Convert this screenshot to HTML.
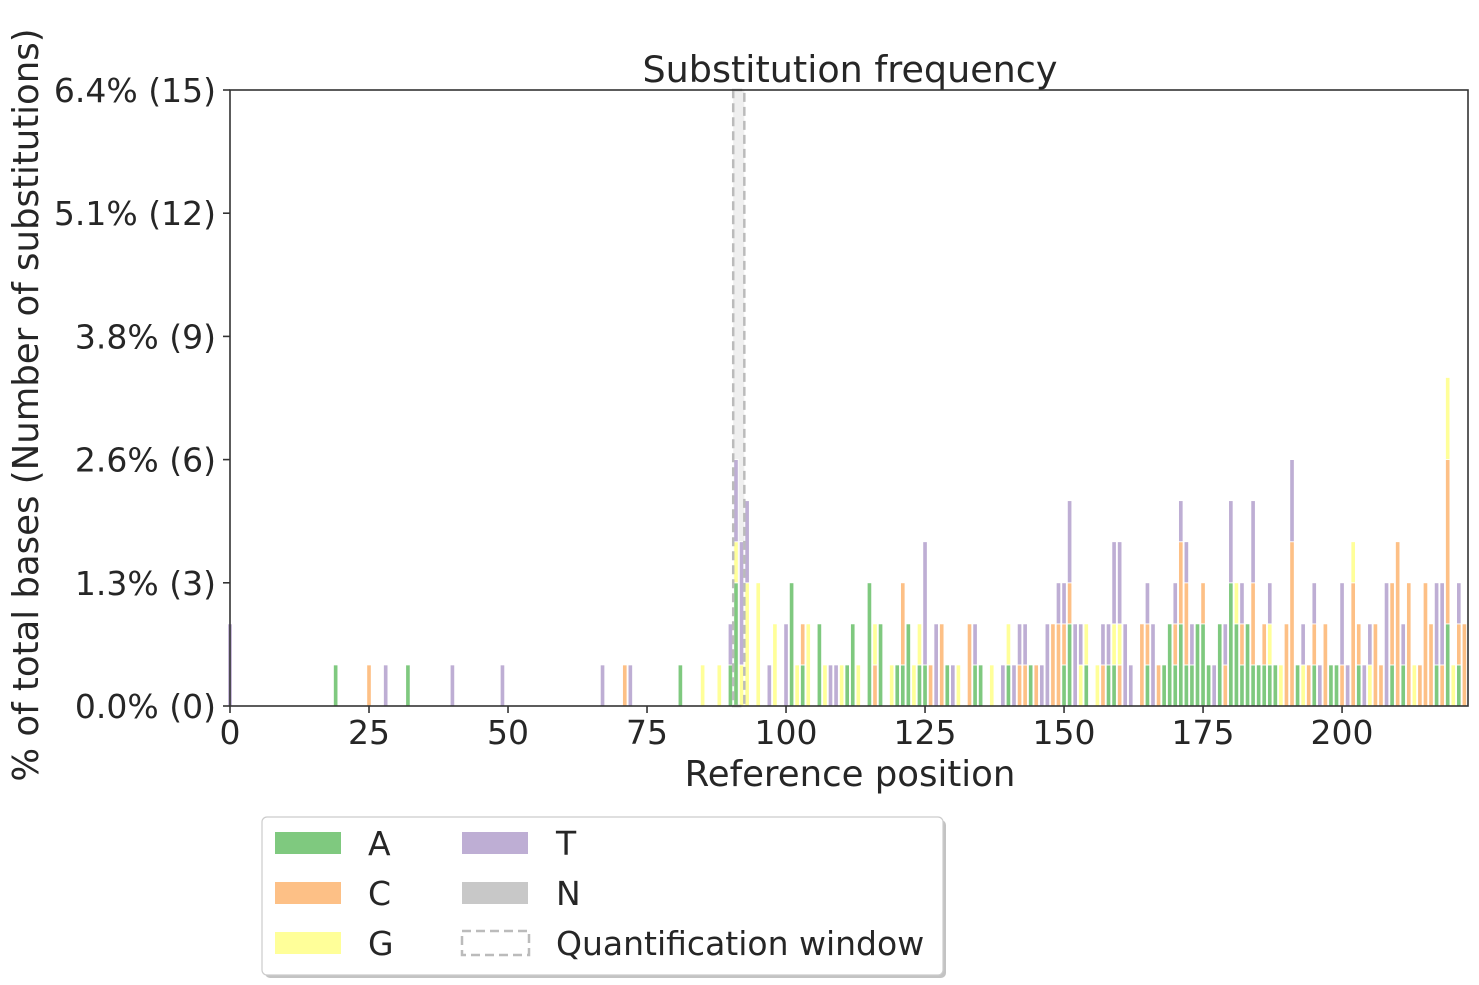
<!DOCTYPE html>
<html><head><meta charset="utf-8"><style>
html,body{margin:0;padding:0;background:#fff;}
svg{display:block;font-family:"DejaVu Sans","Liberation Sans",sans-serif;}
</style></head><body>
<svg id="chart" width="1479" height="985" viewBox="0 0 1479 985" xmlns="http://www.w3.org/2000/svg">
<rect x="0" y="0" width="1479" height="985" fill="#fff"/>
<text x="850" y="82" text-anchor="middle" font-size="36.5" fill="#262626">Substitution frequency</text>
<rect id="qwin" fill="#efefef"/>
<g id="bars"></g>
<rect id="qwinEdge" fill="none" stroke="#bbbbbb" stroke-width="2.5" stroke-dasharray="9,5"/>
<g id="axes"></g>
<text x="850" y="786" text-anchor="middle" font-size="35.5" fill="#262626">Reference position</text>
<text transform="translate(38,405) rotate(-90)" text-anchor="middle" font-size="35.5" fill="#262626">% of total bases (Number of substitutions)</text>
<g>
<rect x="265" y="820" width="681" height="158" rx="5" fill="#888" opacity="0.5"/>
<rect x="262" y="817" width="681" height="158" rx="5" fill="#fff" stroke="#cccccc" stroke-width="1.2"/>
<g><rect x="275" y="832" width="66" height="22" fill="#7fc97f"/><text x="368" y="855" font-size="33" fill="#262626">A</text></g>
<g><rect x="275" y="882" width="66" height="22" fill="#fdc086"/><text x="368" y="905" font-size="33" fill="#262626">C</text></g>
<g><rect x="275" y="932" width="66" height="22" fill="#ffff99"/><text x="368" y="955" font-size="33" fill="#262626">G</text></g>
<g><rect x="462" y="832" width="66" height="22" fill="#beaed4"/><text x="556" y="855" font-size="33" fill="#262626">T</text></g>
<g><rect x="462" y="882" width="66" height="22" fill="#c8c8c8"/><text x="556" y="905" font-size="33" fill="#262626">N</text></g>
<g><rect x="462" y="931" width="67" height="24" fill="none" stroke="#bbbbbb" stroke-width="2.5" stroke-dasharray="9,5"/><text x="556" y="955" font-size="33" fill="#262626">Quantification window</text></g>
</g>
</svg>
<script>
const positions=[0,19,25,28,32,40,49,67,71,72,81,85,88,90,91,92,93,95,97,98,100,101,102,103,104,106,107,108,109,110,111,112,113,115,116,117,119,120,121,122,123,124,125,126,127,128,129,130,131,133,134,135,137,139,140,141,142,143,144,145,146,147,148,149,150,151,152,153,154,156,157,158,159,160,161,162,164,165,166,167,168,169,170,171,172,173,174,175,176,177,178,179,180,181,182,183,184,185,186,187,188,189,190,191,192,193,194,195,196,197,198,199,200,201,202,203,204,205,206,207,208,209,210,211,212,213,214,215,216,217,218,219,220,221,222];
const countsA=[0,1,0,0,1,0,0,0,0,0,1,0,0,1,3,0,0,0,0,0,0,3,0,1,0,2,0,0,0,0,1,2,0,3,0,2,0,1,1,2,0,1,1,0,0,0,1,0,0,0,1,1,0,0,1,0,0,0,1,0,0,0,0,0,1,2,0,0,1,0,0,1,1,0,0,0,0,1,0,0,1,2,1,2,1,1,2,2,1,0,2,0,3,2,1,2,1,1,1,1,1,0,0,0,1,0,0,1,0,0,1,1,0,0,0,1,0,0,0,0,0,1,0,1,0,0,0,0,0,1,0,2,0,1,0];
const countsC=[0,0,1,0,0,0,0,0,1,0,0,0,0,0,0,0,0,0,0,0,0,0,0,1,0,0,0,0,0,0,0,0,0,0,1,0,0,0,2,0,0,0,0,1,0,2,0,0,0,2,0,0,0,0,0,0,1,1,0,1,0,0,2,2,1,1,0,0,0,0,1,0,0,1,0,0,2,1,0,1,0,0,1,2,2,0,0,1,0,0,0,1,0,0,1,0,2,0,1,0,0,0,2,4,0,0,1,1,0,2,0,0,1,0,3,1,0,0,2,1,0,2,4,0,3,0,1,3,2,0,1,4,0,1,2];
const countsG=[0,0,0,0,0,0,0,0,0,0,0,1,1,0,1,1,3,3,0,2,0,0,1,0,2,0,1,0,0,1,0,0,1,0,1,0,1,0,0,0,1,1,0,0,0,0,0,0,1,0,0,0,1,0,1,0,0,0,0,0,0,0,0,0,0,0,0,1,1,1,0,0,1,1,0,0,0,0,0,0,0,0,0,0,0,0,0,0,0,0,0,0,0,1,0,0,0,0,0,1,0,1,0,0,0,1,0,0,0,0,0,0,0,0,1,0,0,1,0,0,0,0,0,0,0,1,0,0,0,0,0,2,1,0,0];
const countsT=[2,0,0,1,0,1,1,1,0,1,0,0,0,1,2,3,2,0,1,0,2,0,0,0,0,0,0,1,1,0,0,0,0,0,0,0,0,0,0,0,0,0,3,0,2,0,0,1,0,0,1,0,0,1,0,1,1,1,0,0,1,2,0,1,1,2,2,1,0,0,1,1,2,2,2,1,0,1,2,0,0,0,1,1,1,1,0,0,0,1,0,1,2,0,1,0,2,0,0,1,0,0,0,2,0,1,0,1,1,0,0,0,2,1,0,0,1,1,0,0,3,0,0,1,0,0,0,0,0,2,2,0,0,1,0];
const countsN=positions.map(()=>0);
const xTicks=[0,25,50,75,100,125,150,175,200];
const yTicks=[0,3,6,9,12,15];
const yTickLabels=["0.0% (0)","1.3% (3)","2.6% (6)","3.8% (9)","5.1% (12)","6.4% (15)"];
const windowStart=90.5, windowEnd=92.5;

const NS="http://www.w3.org/2000/svg";
const X0=230,X1=1468,Y0=706,Y1=90,XMAX=222.65,YMAX=15;
const xs=p=>X0+p*(X1-X0)/XMAX;
const ys=c=>Y0-c*(Y0-Y1)/YMAX;
const series=[[countsA,"#7fc97f","a"],[countsC,"#fdc086","c"],[countsG,"#ffff99","g"],[countsT,"#beaed4","t"],[countsN,"#c8c8c8","n"]];
const barsG=document.getElementById('bars');
const bw=0.8*(X1-X0)/XMAX;
positions.forEach((p,i)=>{
  let base=0;
  series.forEach(s=>{
    const v=s[0][i];
    if(!v) return;
    const r=document.createElementNS(NS,'rect');
    r.setAttribute('x',xs(p)-bw/2);
    r.setAttribute('width',bw);
    r.setAttribute('y',ys(base+v));
    r.setAttribute('height',ys(base)-ys(base+v));
    r.setAttribute('fill',s[1]);
    r.setAttribute('stroke','#fff');
    r.setAttribute('stroke-width','0.8');
    
    
    barsG.appendChild(r);
    base+=v;
  });
});
for(const id of ['qwin','qwinEdge']){
  const q=document.getElementById(id);
  q.setAttribute('x',xs(windowStart));q.setAttribute('width',xs(windowEnd)-xs(windowStart));
  q.setAttribute('y',Y1);q.setAttribute('height',Y0-Y1);
}
const ax=document.getElementById('axes');
function mk(tag,attrs,name,txt){const e=document.createElementNS(NS,tag);for(const k in attrs)e.setAttribute(k,attrs[k]);
  
  
  if(txt!==undefined)e.textContent=txt;ax.appendChild(e);return e;}
mk('rect',{x:X0,y:Y1,width:X1-X0,height:Y0-Y1,fill:'none',stroke:'#333',"stroke-width":1.6},'plot-frame');
xTicks.forEach(t=>{
  mk('line',{x1:xs(t),x2:xs(t),y1:Y0,y2:Y0+7,stroke:'#333',"stroke-width":1.6},'x-tick-'+t);
  mk('text',{x:xs(t),y:Y0+38,"text-anchor":"middle","font-size":33,fill:'#262626'},'x-tick-label-'+t,String(t));
});
yTicks.forEach((t,i)=>{
  mk('line',{x1:X0-7,x2:X0,y1:ys(t),y2:ys(t),stroke:'#333',"stroke-width":1.6},'y-tick-'+t);
  mk('text',{x:X0-14,y:ys(t)+12,"text-anchor":"end","font-size":33,fill:'#262626'},'y-tick-label-'+t,yTickLabels[i]);
});
</script>
</body></html>
